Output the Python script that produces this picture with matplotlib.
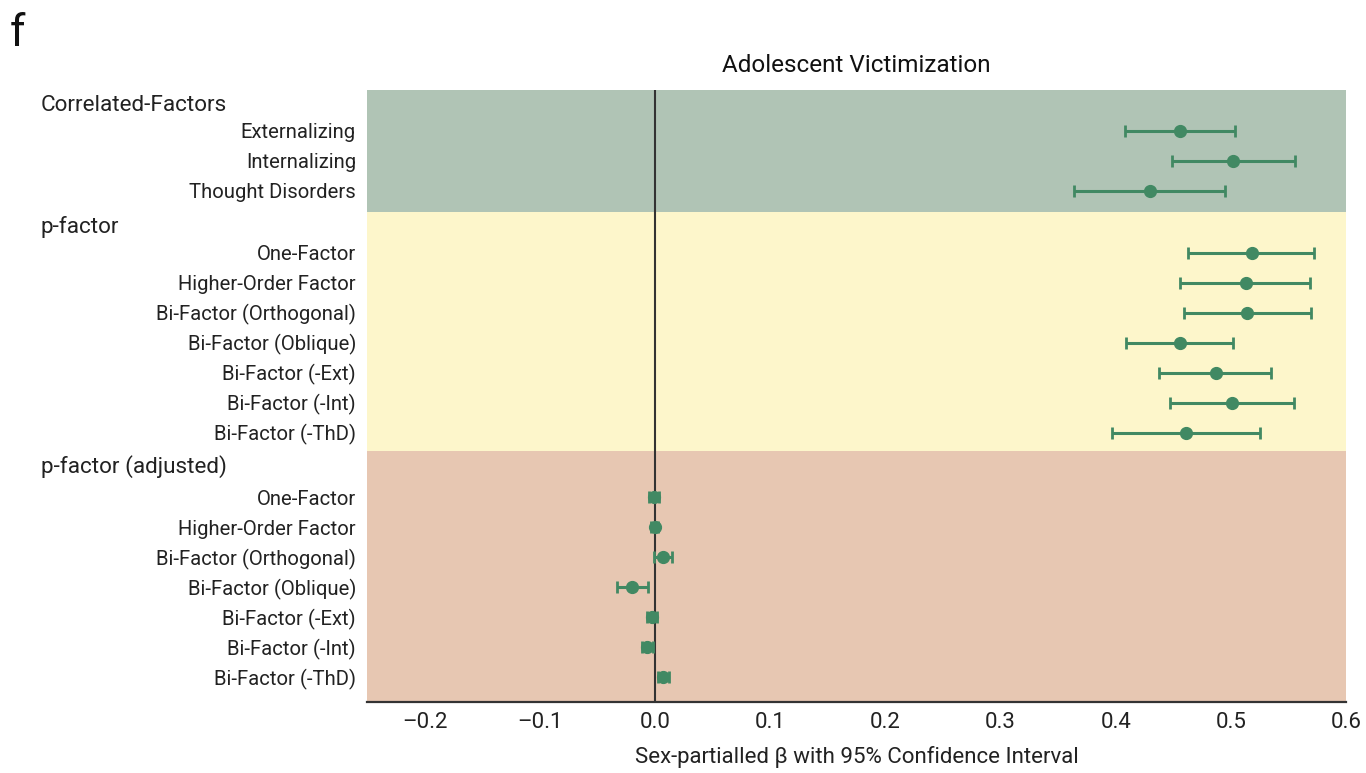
import matplotlib
matplotlib.use("Agg")
import matplotlib.pyplot as plt
import matplotlib.transforms as mtransforms

plt.rcParams["font.family"] = ["Roboto", "DejaVu Sans"]

# ---- data -------------------------------------------------------------
groups = ["Correlated-Factors", "p-factor", "p-factor (adjusted)"]
p_models = ["One-Factor", "Higher-Order Factor", "Bi-Factor (Orthogonal)",
            "Bi-Factor (Oblique)", "Bi-Factor (-Ext)", "Bi-Factor (-Int)",
            "Bi-Factor (-ThD)"]
group_items = [
    ["Externalizing", "Internalizing", "Thought Disorders"],
    p_models,
    p_models,
]
beta = [
    [0.456, 0.502, 0.430],
    [0.518, 0.513, 0.514, 0.456, 0.487, 0.501, 0.461],
    [-0.001, 0.000, 0.0074, -0.0195, -0.0024, -0.0065, 0.0074],
]
ci_low = [
    [0.408, 0.449, 0.364],
    [0.463, 0.456, 0.459, 0.409, 0.438, 0.447, 0.397],
    [-0.0054, -0.003, -0.0007, -0.0328, -0.0065, -0.0111, 0.0028],
]
ci_high = [
    [0.504, 0.556, 0.495],
    [0.572, 0.569, 0.570, 0.502, 0.535, 0.555, 0.525],
    [0.0039, 0.003, 0.0152, -0.0062, 0.0022, -0.0013, 0.0120],
]
title = "Adolescent Victimization"
xlabel = "Sex-partialled \u03b2 with 95% Confidence Interval"
xticks = [-0.2, -0.1, 0.0, 0.1, 0.2, 0.3, 0.4, 0.5, 0.6]

# ---- layout / style ---------------------------------------------------
band_colors = ["#b0c4b5", "#fdf6cb", "#e7c7b2"]
band_edges = [0.0, 4.06, 12.02, 20.4]      # in row units, top to bottom
first_offset = [1.36, 1.36, 1.56]
header_offset = 0.52
point_color = "#418963"
ink = "#222222"

W, H = 1366, 773
fig = plt.figure(figsize=(W / 100, H / 100), dpi=100)
ax = fig.add_axes([367 / W, 1 - 702 / H, 979 / W, 612 / H])

ax.set_xlim(-0.25, 0.6)
ax.set_ylim(band_edges[-1], band_edges[0])

head_tf = mtransforms.blended_transform_factory(fig.transFigure, ax.transData)

ytick_pos, ytick_lab = [], []
for g, name in enumerate(groups):
    top, bot = band_edges[g], band_edges[g + 1]
    ax.axhspan(top, bot, color=band_colors[g], lw=0, zorder=0)
    ax.text(41 / W, top + header_offset, name, transform=head_tf,
            ha="left", va="center", fontsize=16.2, color=ink)
    ys = [top + first_offset[g] + i for i in range(len(group_items[g]))]
    b = beta[g]
    lo = [b[i] - ci_low[g][i] for i in range(len(b))]
    hi = [ci_high[g][i] - b[i] for i in range(len(b))]
    ax.errorbar(b, ys, xerr=[lo, hi], fmt="o", color=point_color,
                ecolor=point_color, elinewidth=2.2, capsize=4.5,
                capthick=2.0, markersize=8.5, zorder=3)
    ytick_pos += ys
    ytick_lab += group_items[g]

ax.axvline(0, color="#333333", lw=1.5, zorder=2)

ax.set_yticks(ytick_pos)
ax.set_yticklabels(ytick_lab, fontsize=14.6, color=ink)
ax.set_xticks(xticks)
ax.set_xticklabels([f"{t:.1f}".replace("-", "\u2013") for t in xticks],
                   fontsize=16, color=ink)
ax.tick_params(axis="y", length=0, pad=8)
ax.tick_params(axis="x", length=0, pad=7)

for s in ["left", "right", "top"]:
    ax.spines[s].set_visible(False)
ax.spines["bottom"].set_color("#333333")
ax.spines["bottom"].set_linewidth(1.6)
ax.spines["bottom"].set_zorder(4)

fig.text((367 + 1346) / 2 / W, 1 - 66 / H, title, ha="center", va="center",
         fontsize=17.5, color="#111111")
fig.text((367 + 1346) / 2 / W, 1 - 757 / H, xlabel, ha="center", va="center",
         fontsize=16, color=ink)
fig.text(10 / W, 1 - 13 / H, "f", ha="left", va="top", fontsize=32,
         color="#111111")

fig.savefig("out.png", dpi=100)
